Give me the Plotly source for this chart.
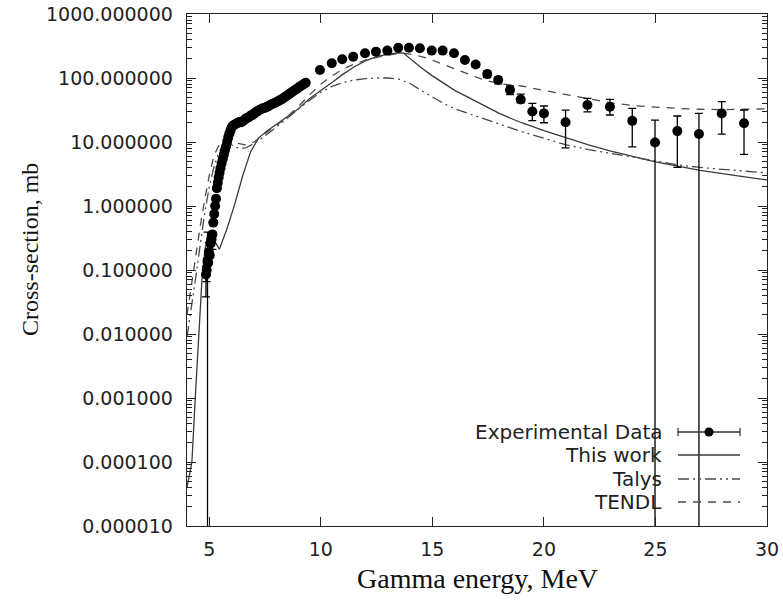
import plotly.graph_objects as go

# ---------------- Experimental data ----------------
exp_E = [4.85, 4.88, 4.92, 4.95, 4.98, 5.02, 5.06, 5.10, 5.14, 5.18, 5.22, 5.26, 5.30, 5.34, 5.38,
         5.42, 5.46, 5.50, 5.55, 5.60, 5.65, 5.70, 5.75, 5.80, 5.85, 5.90, 5.95, 6.00, 6.06, 6.12,
         6.20, 6.28, 6.36, 6.44, 6.52, 6.60, 6.68, 6.76, 6.84, 6.92, 7.00, 7.08, 7.16, 7.24, 7.32,
         7.40, 7.48, 7.56, 7.64, 7.72, 7.80, 7.88, 7.96, 8.04, 8.12, 8.20, 8.28, 8.36, 8.44, 8.52,
         8.60, 8.68, 8.76, 8.84, 8.92, 9.00, 9.08, 9.16, 9.24, 9.32,
         9.96, 10.49, 10.96, 11.45, 11.98, 12.47, 12.98, 13.47, 13.95, 14.44, 14.97, 15.46, 15.97,
         16.46, 16.94, 17.46, 17.95, 18.48, 18.96, 19.48, 20.0, 20.97, 21.95, 22.96, 23.96, 24.98,
         25.98, 26.95, 27.97, 28.97]
exp_xs = [0.085, 0.10, 0.14, 0.13, 0.19, 0.17, 0.26, 0.30, 0.36, 0.55, 0.75, 1.0, 1.3, 1.9, 2.3,
          2.8, 3.3, 3.9, 4.6, 5.4, 6.3, 7.4, 8.5, 10.2, 11.8, 13.6, 15.2, 16.8, 17.9, 18.6,
          19.3, 19.9, 20.6, 20.3, 21.5, 22.6, 23.8, 24.2, 25.6, 26.3, 27.5, 29.4, 30.1, 31.7, 32.4,
          33.6, 34.1, 35.3, 36.0, 37.8, 38.9, 40.1, 41.2, 42.5, 44.0, 45.8, 47.3, 49.5, 51.8, 54.0,
          56.7, 59.2, 62.0, 64.8, 67.5, 70.9, 74.2, 77.0, 80.6, 84.0,
          133, 170, 196, 215, 243, 258, 268, 297, 297, 291, 268, 268, 243,
          191, 163, 115, 93, 65, 46, 30, 28, 20.4, 37.9, 35.6, 21.4, 9.8,
          14.8, 13.3, 28, 19.6]
exp_err_plus = [0.03, 0.03, 0.25, 0.01, 0.08, 0.015, 0.02, 0.025, 0.03, 0.04, 0.05, 0.07, 0.09, 0.13, 0.16,
                0.2, 0.23, 0.27, 0.32, 0.38, 0.44, 0.52, 0.6, 0.7, 0.8, 0.95, 1.1, 1.2, 1.25, 1.3,
                1.35, 1.4, 1.45, 1.4, 1.5, 1.6, 1.7, 1.7, 1.8, 1.85, 1.9, 2.1, 2.1, 2.2, 2.3,
                2.4, 2.4, 2.5, 2.5, 2.6, 2.7, 2.8, 2.9, 3.0, 3.1, 3.2, 3.3, 3.5, 3.6, 3.8,
                4.0, 4.1, 4.3, 4.5, 4.7, 5.0, 5.2, 5.4, 5.6, 5.9,
                8, 9, 10, 11, 12, 13, 13, 15, 15, 15, 14, 14, 14,
                13, 13, 14, 12, 10, 10, 10, 8.5, 11, 10, 10.8, 12.2, 12.2,
                10.7, 14.7, 14.6, 12]
# a minus error equal to the value means the bar reaches zero (off the log axis)
exp_err_minus = [0.047, 0.034, 0.14, 0.01, 0.06, 0.015, 0.02, 0.025, 0.15, 0.04, 0.05, 0.07, 0.09, 0.13, 0.16,
                 0.2, 0.23, 0.27, 0.32, 0.38, 0.44, 0.52, 0.6, 0.7, 0.8, 0.95, 1.1, 1.2, 1.25, 1.3,
                 1.35, 1.4, 1.45, 1.4, 1.5, 1.6, 1.7, 1.7, 1.8, 1.85, 1.9, 2.1, 2.1, 2.2, 2.3,
                 2.4, 2.4, 2.5, 2.5, 2.6, 2.7, 2.8, 2.9, 3.0, 3.1, 3.2, 3.3, 3.5, 3.6, 3.8,
                 4.0, 4.1, 4.3, 4.5, 4.7, 5.0, 5.2, 5.4, 5.6, 5.9,
                 8, 9, 10, 11, 12, 13, 13, 15, 15, 15, 14, 14, 14,
                 13, 13, 14, 12, 10, 5, 8.5, 8, 12.3, 8.4, 9.2, 13, 9.8,
                 10.8, 13.3, 14.7, 13.2]

# ---------------- Model curves ----------------
work_E = [4.0, 4.1, 4.22, 4.37, 4.52, 4.67, 4.8, 4.9, 5.0, 5.1, 5.25, 5.45, 5.8, 6.15, 6.5,
          6.85, 7.2, 7.6, 8.1, 8.6, 9.0, 9.5, 10.0, 10.5, 11.0, 11.5, 12.0, 12.5, 13.0, 13.5,
          13.7, 14.0, 14.5, 15.0, 15.5, 16.0, 16.5, 17.0, 17.5, 18.0, 18.5, 19.0, 20.0, 21.0,
          22.0, 23.0, 24.0, 25.0, 26.0, 27.0, 28.0, 29.0, 30.0]
work_xs = [4e-5, 6e-5, 1e-4, 1e-3, 7e-3, 0.07, 0.2, 0.32, 0.38, 0.34, 0.28, 0.21, 0.45, 1.1, 3.0,
           7.0, 11.5, 15, 20, 26, 33, 48, 63, 85, 115, 150, 185, 215, 235, 248,
           245, 200, 145, 108, 82, 64, 52, 42, 34, 28, 23.5, 20, 15, 11.5,
           9.0, 7.2, 5.9, 4.9, 4.2, 3.6, 3.2, 2.85, 2.55]

talys_E = [4.0, 4.2, 4.4, 4.6, 4.8, 5.0, 5.2, 5.4, 5.6, 5.8, 6.0, 6.3, 6.6, 7.0, 7.5, 8.0, 8.5,
           9.0, 9.5, 10.0, 10.5, 11.0, 11.5, 12.0, 12.5, 13.0, 13.5, 14.0, 14.5, 15.0, 15.5,
           16.0, 17.0, 18.0, 19.0, 20.0, 21.0, 22.0, 23.0, 24.0, 25.0, 26.0, 27.0, 28.0, 29.0, 30.0]
talys_xs = [0.009, 0.025, 0.08, 0.26, 0.8, 2.0, 4.0, 6.5, 8.5, 9.5, 9.0, 8.0, 8.0, 9.5, 12.5, 17, 24,
            33, 45, 60, 74, 85, 93, 98, 100, 100, 96, 82, 64, 50, 40,
            33, 25, 19, 14.5, 11.5, 9.0, 7.6, 6.6, 5.7, 5.0, 4.4, 4.0, 3.7, 3.5, 3.3]

tendl_E = [4.0, 4.2, 4.4, 4.6, 4.8, 5.0, 5.2, 5.4, 5.6, 5.8, 6.0, 6.3, 6.6, 7.0, 7.5, 8.0, 8.5,
           9.0, 9.5, 10.0, 10.5, 11.0, 11.5, 12.0, 12.5, 13.0, 13.5, 13.8, 14.2, 14.6, 15.0,
           15.5, 16.0, 16.5, 17.0, 17.5, 18.0, 18.5, 19.0, 20.0, 21.0, 22.0, 23.0, 24.0, 25.0,
           26.0, 27.0, 28.0, 29.0, 30.0]
tendl_xs = [0.02, 0.06, 0.18, 0.5, 1.3, 3.0, 6.0, 8.5, 10.5, 11, 10.5, 9.5, 9.0, 10, 13.5, 18, 25,
            36, 55, 80, 108, 138, 165, 190, 210, 228, 240, 242, 230, 212, 190,
            162, 138, 118, 102, 90, 82, 78, 75, 64, 55, 47, 41, 37, 35,
            33.5, 32.5, 32, 32.5, 33]

x_tickvals = [5, 10, 15, 20, 25, 30]
legend_labels = ["Experimental Data", "This work", "Talys", "TENDL"]

# error bars that reach zero are sent just below the log range
minus_plot = [m if m < v else v * (1 - 1e-8) for v, m in zip(exp_xs, exp_err_minus)]

TICK_FONT = dict(family="DejaVu Sans", size=19, color="#222222")
TITLE_FONT = dict(family="Liberation Serif", size=24, color="#111111")

fig = go.Figure()

fig.add_trace(go.Scatter(x=work_E, y=work_xs, mode="lines", name=legend_labels[1],
                         line=dict(color="#3a3a3a", width=1.3), showlegend=False))
fig.add_trace(go.Scatter(x=talys_E, y=talys_xs, mode="lines", name=legend_labels[2],
                         line=dict(color="#4a4a4a", width=1.3, dash="11px,4px,2px,4px,2px,4px"),
                         showlegend=False))
fig.add_trace(go.Scatter(x=tendl_E, y=tendl_xs, mode="lines", name=legend_labels[3],
                         line=dict(color="#4a4a4a", width=1.3, dash="8px,7px"), showlegend=False))
fig.add_trace(go.Scatter(x=exp_E, y=exp_xs, mode="markers", name=legend_labels[0],
                         marker=dict(symbol="circle", size=10, color="black"),
                         error_y=dict(type="data", symmetric=False, array=exp_err_plus,
                                      arrayminus=minus_plot, color="black", thickness=1.3, width=4),
                         showlegend=False))

# ---- gnuplot-style key (text right-aligned, sample on the right) ----
X0, X1 = 187, 767
Y0, Y1 = 14, 526
def px(x):
    return (x - X0) / (X1 - X0)
def py(y):
    return (Y1 - y) / (Y1 - Y0)

rows = [432, 455, 479, 502]
text_right = 664
s0, s1 = 678, 740
annotations = []
shapes = []
for lab, r in zip(legend_labels, rows):
    annotations.append(dict(x=px(text_right), y=py(r), xref="paper", yref="paper", text=lab,
                            showarrow=False, xanchor="right", yanchor="middle",
                            font=dict(family="DejaVu Sans", size=20, color="#222222")))
# axis titles
annotations.append(dict(x=px(477), y=py(578), xref="paper", yref="paper", text="Gamma energy, MeV",
                        showarrow=False, xanchor="center", yanchor="middle",
                        font=dict(family="Liberation Serif", size=28, color="#111111")))
annotations.append(dict(x=px(30), y=py(250), xref="paper", yref="paper", text="Cross-section, mb",
                        showarrow=False, xanchor="center", yanchor="middle", textangle=-90, font=TITLE_FONT))
# experimental sample
shapes.append(dict(type="line", xref="paper", yref="paper", x0=px(s0), x1=px(s1), y0=py(rows[0]), y1=py(rows[0]),
                   line=dict(color="#333333", width=1.3)))
for sx in (s0, s1):
    shapes.append(dict(type="line", xref="paper", yref="paper", x0=px(sx), x1=px(sx),
                       y0=py(rows[0] - 4), y1=py(rows[0] + 4), line=dict(color="#333333", width=1.3)))
shapes.append(dict(type="circle", xref="paper", yref="paper", xsizemode="pixel", ysizemode="pixel",
                   xanchor=px(709), yanchor=py(rows[0]), x0=-4.5, x1=4.5, y0=-4.5, y1=4.5,
                   fillcolor="black", line=dict(color="black", width=0)))
shapes.append(dict(type="line", xref="paper", yref="paper", x0=px(s0), x1=px(s1), y0=py(rows[1]), y1=py(rows[1]),
                   line=dict(color="#3a3a3a", width=1.3)))
shapes.append(dict(type="line", xref="paper", yref="paper", x0=px(s0), x1=px(s1), y0=py(rows[2]), y1=py(rows[2]),
                   line=dict(color="#4a4a4a", width=1.3, dash="11px,4px,2px,4px,2px,4px")))
shapes.append(dict(type="line", xref="paper", yref="paper", x0=px(s0), x1=px(s1), y0=py(rows[3]), y1=py(rows[3]),
                   line=dict(color="#4a4a4a", width=1.3, dash="8px,7px")))

fig.update_layout(
    width=783, height=600, autosize=False,
    margin=dict(l=187, r=16, t=14, b=74, autoexpand=False),
    paper_bgcolor="white", plot_bgcolor="white",
    showlegend=False, hovermode=False,
    annotations=annotations, shapes=shapes,
)
fig.update_xaxes(range=[4, 30], tickvals=x_tickvals, ticktext=[str(v) for v in x_tickvals],
                 ticks="inside", ticklen=9, tickwidth=1, tickcolor="#222222",
                 showline=True, linecolor="#222222", linewidth=1.3, mirror="allticks",
                 showgrid=False, zeroline=False, tickfont=TICK_FONT, automargin=False,
                 ticklabelstandoff=6)
fig.update_yaxes(type="log", range=[-5, 3], dtick=1, tickformat=".6f",
                 ticks="inside", ticklen=9, tickwidth=1, tickcolor="#222222",
                 minor=dict(ticks="inside", ticklen=5, tickcolor="#222222", showgrid=False),
                 showline=True, linecolor="#222222", linewidth=1.3, mirror="allticks",
                 showgrid=False, zeroline=False, tickfont=TICK_FONT, automargin=False,
                 ticklabelstandoff=9)

fig.write_html("out.html", config={"displayModeBar": False, "staticPlot": True},
               post_script="document.body.style.margin='0px';document.body.style.overflow='hidden';")
